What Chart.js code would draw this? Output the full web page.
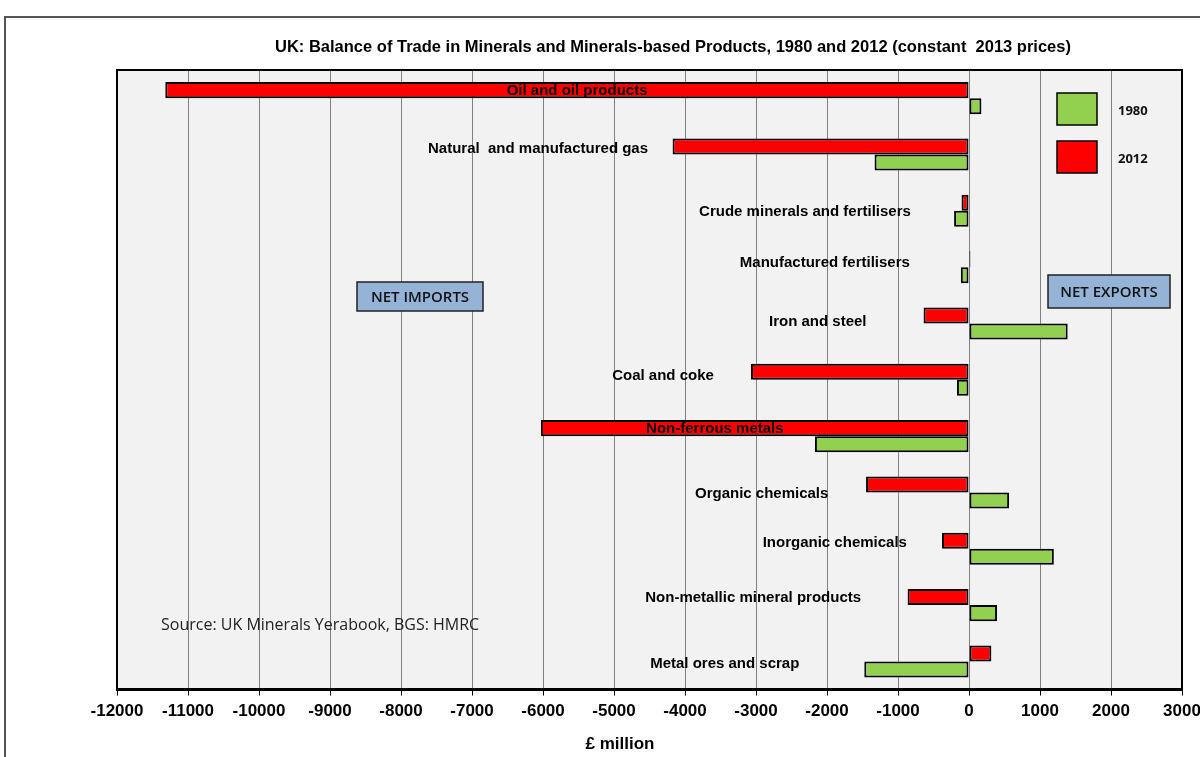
<!DOCTYPE html>
<html>
<head>
<meta charset="utf-8">
<title>UK Balance of Trade in Minerals</title>
<script src="https://cdn.jsdelivr.net/npm/chart.js@4/dist/chart.umd.min.js"></script>
<style>
  body { margin: 0; background: #fff; }
  canvas { display: block; }
</style>
</head>
<body>
<canvas id="tradeChart" width="1200" height="757"></canvas>
<script>
// categories, top to bottom
var categories = ['Oil and oil products', 'Natural  and manufactured gas', 'Crude minerals and fertilisers',
    'Manufactured fertilisers', 'Iron and steel', 'Coal and coke', 'Non-ferrous metals',
    'Organic chemicals', 'Inorganic chemicals', 'Non-metallic mineral products', 'Metal ores and scrap']

// £ million, constant 2013 prices
var values2012 = [-11320, -4175, -105, 20, -640, -3070, -6030, -1450, -380, -865, 315]
var values1980 = [175, -1330, -210, -115, 1390, -170, -2170, 565, 1195, 395, -1475]

var xMin = -12000
var xMax = 3000
var xStep = 1000

// where each category name sits (in £ million along the axis) and a small vertical nudge
var labelAnchor = [-5520, -6070, -2310, -2030, -2130, -4310, -3580, -2920, -1890, -3040, -3440]
var labelNudge = [-7, -6, 1, -4, -2, -4, -7, 1, -6, -7, 2]

var RED = '#ff0000'
var GREEN = '#92d050'

Chart.defaults.font.family = '"Liberation Sans", Arial, sans-serif'
Chart.defaults.color = '#000'

var decorPlugin = {
    id: 'decor',
    beforeDraw: function (chart) {
        var c = chart.ctx, a = chart.chartArea
        c.save()
        c.fillStyle = '#fff'
        c.fillRect(0, 0, chart.width, chart.height)
        // outer frame
        c.strokeStyle = '#555'
        c.lineWidth = 2
        c.strokeRect(5, 17, 1400, 1000)
        // plot background
        c.fillStyle = '#f2f2f2'
        c.fillRect(a.left, a.top, a.right - a.left, a.bottom - a.top)
        c.restore()
    },
    afterDatasetsDraw: function (chart) {
        var c = chart.ctx, a = chart.chartArea
        var xs = chart.scales.x, ys = chart.scales.y
        c.save()
        // plot border
        c.strokeStyle = '#000'
        c.lineWidth = 2
        c.strokeRect(a.left, a.top, a.right - a.left, a.bottom - a.top)

        // category names
        c.font = 'bold 15px "Liberation Sans", Arial, sans-serif'
        c.fillStyle = '#000'
        c.textAlign = 'center'
        c.textBaseline = 'middle'
        categories.forEach(function (name, i) {
            c.fillText(name, xs.getPixelForValue(labelAnchor[i]), ys.getPixelForValue(i) + labelNudge[i])
        })

        // title
        c.font = 'bold 16.5px "Liberation Sans", Arial, sans-serif'
        c.fillText('UK: Balance of Trade in Minerals and Minerals-based Products, 1980 and 2012 (constant  2013 prices)', 673, 47)

        // axis title
        c.font = 'bold 17px "Liberation Sans", Arial, sans-serif'
        c.fillText('£ million', 620, 744)

        // boxes
        function box(text, x, y, w, h) {
            c.fillStyle = '#95b3d7'
            c.fillRect(x, y, w, h)
            c.strokeStyle = '#222'
            c.lineWidth = 1.5
            c.strokeRect(x, y, w, h)
            c.fillStyle = '#111'
            c.font = '600 15px "Open Sans", sans-serif'
            c.fillText(text, x + w / 2, y + h / 2 + 1)
        }
        box('NET IMPORTS', 357, 282, 126, 29)
        box('NET EXPORTS', 1048, 275, 122, 33)

        // source
        c.font = '16px "Open Sans", sans-serif'
        c.textAlign = 'left'
        c.fillStyle = '#222'
        c.fillText('Source: UK Minerals Yerabook, BGS: HMRC', 161, 625)

        // legend
        var legend = [['1980', GREEN, 93], ['2012', RED, 141]]
        legend.forEach(function (l) {
            c.fillStyle = l[1]
            c.fillRect(1057, l[2], 40, 32)
            c.strokeStyle = '#000'
            c.lineWidth = 1.5
            c.strokeRect(1057, l[2], 40, 32)
            c.fillStyle = '#111'
            c.font = 'bold 13px "Open Sans", sans-serif'
            c.fillText(l[0], 1118, l[2] + 18)
        })
        c.restore()
    }
}

var ctx = document.getElementById('tradeChart').getContext('2d')

var data = {
    labels: categories,
    datasets: [{
        label: '2012',
        data: values2012,
        backgroundColor: RED,
        borderColor: '#000',
        borderWidth: 2,
        borderSkipped: false
    },
    {
        label: '1980',
        data: values1980,
        backgroundColor: GREEN,
        borderColor: '#000',
        borderWidth: 2,
        borderSkipped: false
    }]
}

var options = {
    indexAxis: 'y',
    responsive: false,
    animation: false,
    layout: {
        padding: { left: 117, right: 18, top: 70, bottom: 29 }
    },
    categoryPercentage: 0.57,
    barPercentage: 1.0,
    plugins: {
        legend: { display: false },
        tooltip: { enabled: false }
    },
    scales: {
        x: {
            min: xMin,
            max: xMax,
            // let the end labels run past the plot edge, as in the original
            afterFit: function (scale) {
                scale.paddingLeft = 0
                scale.paddingRight = 0
            },
            ticks: {
                stepSize: xStep,
                autoSkip: false,
                maxRotation: 0,
                padding: 6,
                font: { size: 17, weight: 'bold' },
                color: '#000',
                callback: function (v) { return String(v) }
            },
            grid: {
                color: '#808080',
                lineWidth: 1,
                tickColor: '#000',
                tickLength: 6
            },
            border: { color: '#000', width: 3 }
        },
        y: {
            display: false
        }
    }
}

var config = {
    type: 'bar',
    data: data,
    options: options,
    plugins: [decorPlugin]
}
var graph = new Chart(ctx, config)
</script>
</body>
</html>
